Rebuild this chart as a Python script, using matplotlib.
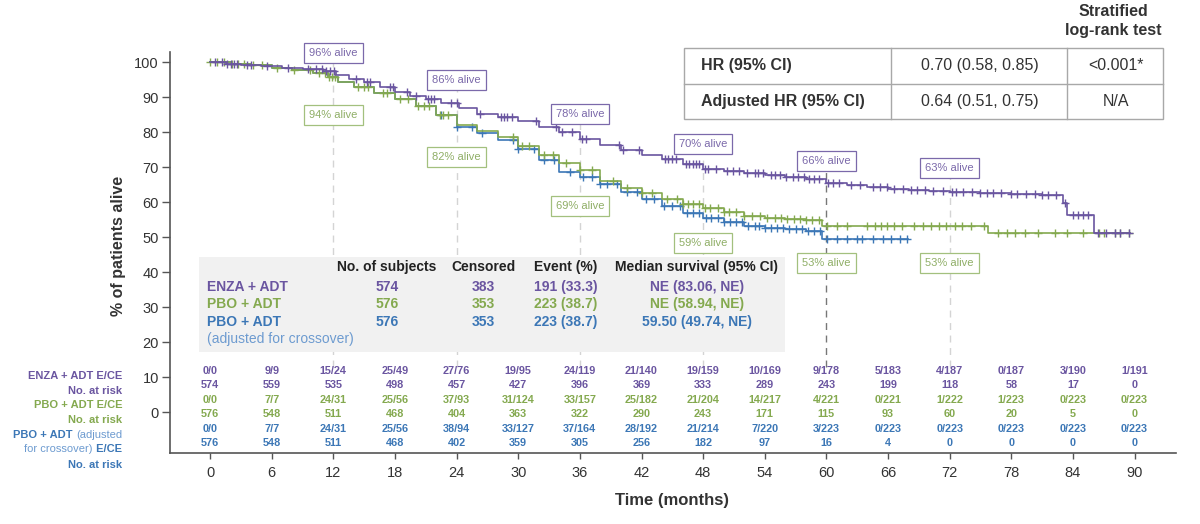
import matplotlib
matplotlib.use("Agg")
import matplotlib.pyplot as plt
from matplotlib.patches import Rectangle
from matplotlib.lines import Line2D
import numpy as np

plt.rcParams['font.family'] = ['Liberation Sans', 'DejaVu Sans']

PURPLE = '#6a55a0'
GREEN = '#84a94f'
BLUE = '#3c77b6'
LIGHTBLUE = '#6d9bd0'

# ---- Kaplan-Meier step knots (months, % alive) ----
enza_t = [0, 1.5, 3, 5, 7, 9, 11, 12.3, 13.5, 15, 16.5, 18, 19.5, 21, 22.5, 24.2, 26, 28, 30, 32,
          34, 36, 38, 40, 42, 44, 46, 48, 50, 52, 54, 56, 58, 60, 62, 64, 66, 68, 70, 72,
          75, 78, 81, 83.0, 83.4, 86.1]
enza_s = [100, 99.6, 99.2, 98.8, 98.3, 97.9, 97.4, 96.3, 95.2, 94.2, 93.0, 91.6, 90.2, 89.5, 88.4, 86.9, 85.3, 84.4, 83.2, 81.5,
          80.0, 78.0, 76.4, 75.0, 73.6, 72.2, 70.9, 69.6, 69.0, 68.3, 67.7, 67.1, 66.5, 65.5, 65.0, 64.4, 63.9, 63.5, 63.2, 62.9,
          62.6, 62.3, 62.0, 59.7, 56.3, 51.1]
enza_end = 89.6

pbo_t = [0, 2, 4, 6, 8, 10, 11.5, 12.5, 14, 16, 18, 20, 22, 24, 26, 28, 30, 32, 34, 36,
         38, 40, 42, 44, 46, 48, 50, 52, 54, 56, 58, 59.6, 75.7]
pbo_s = [100, 99.6, 99.1, 98.4, 97.7, 96.9, 95.8, 94.4, 92.8, 91.2, 89.6, 87.6, 85.0, 82.0, 80.3, 78.6, 76.0, 73.6, 71.2, 69.1,
         66.2, 64.1, 62.5, 61.0, 59.6, 58.3, 57.2, 56.1, 55.6, 55.1, 54.8, 53.2, 51.2]
pbo_end = 89.6

adj_t = [0, 2, 4, 6, 8, 10, 11.5, 12.5, 14, 16, 18, 20, 22, 24, 26, 28, 30, 32, 34, 36,
         38, 40, 42, 44, 46, 48, 50, 52, 54, 56, 58, 59.6]
adj_s = [100, 99.6, 99.1, 98.4, 97.7, 96.9, 95.8, 94.4, 92.8, 91.2, 89.6, 87.6, 84.8, 81.6, 79.8, 77.8, 75.2, 72.0, 68.6, 67.2,
         65.2, 63.0, 61.0, 58.8, 57.0, 55.5, 54.3, 53.3, 52.7, 52.3, 51.9, 49.6]
adj_end = 67.9

# censor times (months)
enza_cens = [0.5, 1.2, 1.6, 2.0, 2.3, 2.6, 3.6, 4, 5.5, 7.6, 9.5, 10.3, 10.9, 11.3, 11.7, 12.1, 14.2, 15.3, 15.6,
             17.5, 17.8, 19.2, 20.0, 21.2, 21.5, 21.8, 23.5, 24, 26.3, 28.3, 28.6, 28.9, 29.4, 31.7, 33.7, 34.3,
             35.2, 36.2, 36.6, 39.8, 40.2, 41.8, 44.3, 44.6, 45, 45.4, 46.3, 46.6, 47, 47.3, 47.6, 48.2, 48.5,
             49.3, 50.3, 50.9, 51.5, 52.3, 53, 53.3, 53.8, 54.6, 55, 55.5, 56.1, 56.7, 57.2, 57.8, 58.3, 58.8,
             59.3, 60.2, 60.6, 61.2, 62.4, 63.3, 64.5, 65.2, 65.9, 66.6, 67.5, 68.2, 68.8, 69.6, 70.4, 71.4,
             72.2, 72.6, 73.3, 74.2, 75, 75.6, 76.2, 77, 78, 78.6, 79.4, 80.3, 81, 81.6, 82.4, 83.2, 84, 84.5,
             85, 85.5, 86.4, 87.2, 88.1, 88.6, 89.5]
pbo_cens = [0, 0.7, 1.4, 2.1, 2.7, 3.3, 4.2, 5.1, 6.5, 8.2, 9.7, 10.6, 11.2, 11.6, 11.9, 12.2, 14.4, 15, 15.4,
            16.8, 17.2, 18.5, 19.3, 20.2, 20.8, 21.3, 22.4, 22.7, 23.2, 29.5, 30.4, 31, 32.5, 33.4, 34.6, 36,
            37.2, 39.2, 40.6, 42, 43, 44.5, 45.5, 46, 46.5, 47, 47.6, 48.2, 48.7, 49.4, 50, 50.5, 51.2, 52,
            52.8, 53.5, 54.2, 55, 55.6, 56.2, 56.8, 57.4, 58, 58.6, 59.3, 60.1, 61, 62, 64, 64.7, 65.3, 65.9,
            66.6, 67.4, 68.5, 69.4, 70.2, 71, 71.6, 72.5, 73.2, 74.1, 75.3, 76.7, 77.6, 78.4, 79.3, 80.6,
            82.3, 83.4, 85, 86.5, 87, 88.1, 88.6, 89.5]
adj_cens = [22.5, 24, 25.5, 26.5, 29.5, 30, 31.5, 32.5, 33.5, 35, 36.3, 37.2, 38, 38.6, 39.6, 40.6, 41.6, 42.4,
            43.2, 44.2, 45, 45.7, 46.4, 47, 47.6, 48.3, 48.8, 49.4, 50, 50.6, 51.2, 51.8, 52.4, 53, 53.4, 54,
            54.6, 55.2, 55.8, 56.4, 57, 57.6, 58.2, 58.8, 59.4, 60.1, 61, 62, 63, 63.5, 64.5, 65.5, 66.3, 67.2,
            67.8]

# annotation boxes: (month, y of box, label)
purple_boxes = [(12, 102.7, '96% alive'), (24, 94.8, '86% alive'), (36, 85.2, '78% alive'),
                (48, 76.5, '70% alive'), (60, 71.8, '66% alive'), (72, 69.8, '63% alive')]
green_boxes = [(12, 84.8, '94% alive'), (24, 72.9, '82% alive'), (36, 58.9, '69% alive'),
               (48, 48.4, '59% alive'), (60, 42.7, '53% alive'), (72, 42.7, '53% alive')]

# number at risk table
months = list(range(0, 91, 6))
enza_ece = ["0/0", "9/9", "15/24", "25/49", "27/76", "19/95", "24/119", "21/140", "19/159", "10/169",
            "9/178", "5/183", "4/187", "0/187", "3/190", "1/191"]
enza_risk = [574, 559, 535, 498, 457, 427, 396, 369, 333, 289, 243, 199, 118, 58, 17, 0]
pbo_ece = ["0/0", "7/7", "24/31", "25/56", "37/93", "31/124", "33/157", "25/182", "21/204", "14/217",
           "4/221", "0/221", "1/222", "1/223", "0/223", "0/223"]
pbo_risk = [576, 548, 511, 468, 404, 363, 322, 290, 243, 171, 115, 93, 60, 20, 5, 0]
adj_ece = ["0/0", "7/7", "24/31", "25/56", "38/94", "33/127", "37/164", "28/192", "21/214", "7/220",
           "3/223", "0/223", "0/223", "0/223", "0/223", "0/223"]
adj_risk = [576, 548, 511, 468, 402, 359, 305, 256, 182, 97, 16, 4, 0, 0, 0, 0]

# summary box
summary_cols = ['No. of subjects', 'Censored', 'Event (%)', 'Median survival (95% CI)']
summary_rows = [('ENZA + ADT', ['574', '383', '191 (33.3)', 'NE (83.06, NE)']),
                ('PBO + ADT', ['576', '353', '223 (38.7)', 'NE (58.94, NE)']),
                ('PBO + ADT', ['576', '353', '223 (38.7)', '59.50 (49.74, NE)'])]

hr_rows = [('HR (95% CI)', '0.70 (0.58, 0.85)', '<0.001*'),
           ('Adjusted HR (95% CI)', '0.64 (0.51, 0.75)', 'N/A')]


def step_at(t, s, x):
    idx = np.searchsorted(t, x, side='right') - 1
    return np.asarray(s)[idx]


fig = plt.figure(figsize=(12, 5.24), dpi=100)
ax = fig.add_axes([0.1417, 0.1355, 0.838, 0.766])
ax.set_xlim(-3.9, 94)
ax.set_ylim(-11.6, 103)

# KM curves
for t, s, end, cens, col in [(adj_t, adj_s, adj_end, adj_cens, BLUE),
                             (pbo_t, pbo_s, pbo_end, pbo_cens, GREEN),
                             (enza_t, enza_s, enza_end, enza_cens, PURPLE)]:
    tt = list(t) + [end]
    ss = list(s) + [s[-1]]
    ax.step(tt, ss, where='post', color=col, lw=1.2, zorder=5)
    ax.plot(cens, step_at(t, s, cens), ls='none', marker='+', ms=6, mew=1.0,
            color=col, zorder=5)

# dashed guide lines
for (m, yb, _) in purple_boxes:
    col = '#777777' if m == 60 else '#d4d4d4'
    ax.plot([m, m], [13, yb - 2], ls=(0, (5, 4)), color=col, lw=1.0, zorder=1)

for (m, yb, lab) in purple_boxes:
    ax.text(m, yb, lab, ha='center', va='center', fontsize=8, color='#7b69aa', zorder=7,
            bbox=dict(boxstyle='square,pad=0.45', fc='white', ec='#7b69aa', lw=0.9))
for (m, yb, lab) in green_boxes:
    ax.text(m, yb, lab, ha='center', va='center', fontsize=8, color='#8fae66', zorder=7,
            bbox=dict(boxstyle='square,pad=0.45', fc='white', ec='#a3c07e', lw=0.9))

# summary box
ax.add_patch(Rectangle((-1.04, 17.1), 57.04, 27.4, fc='#f1f1f1', ec='none', zorder=3))
col_x = [17.2, 26.6, 34.6, 47.4]
row_y = [35.8, 30.9, 25.8]
for cx, name in zip(col_x, summary_cols):
    ax.text(cx, 41.5, name, ha='center', va='center', fontsize=10, fontweight='bold',
            color='#222222', zorder=4)
for (lab, vals), ry, col in zip(summary_rows, row_y, [PURPLE, GREEN, BLUE]):
    ax.text(-0.3, ry, lab, ha='left', va='center', fontsize=10, fontweight='bold', color=col, zorder=4)
    for cx, v in zip(col_x, vals):
        ax.text(cx, ry, v, ha='center', va='center', fontsize=10, fontweight='bold', color=col, zorder=4)
ax.text(-0.3, 21.0, '(adjusted for crossover)', ha='left', va='center', fontsize=10,
        color=LIGHTBLUE, zorder=4)

# risk table numbers
risk_rows = [(enza_ece, 11.8, PURPLE), (enza_risk, 7.8, PURPLE),
             (pbo_ece, 3.6, GREEN), (pbo_risk, -0.5, GREEN),
             (adj_ece, -4.8, BLUE), (adj_risk, -8.8, BLUE)]
for vals, ry, col in risk_rows:
    for m, v in zip(months, vals):
        ax.text(m, ry, str(v), ha='center', va='center', fontsize=7.8, fontweight='bold', color=col)

# axes styling
for sp in ['top', 'right']:
    ax.spines[sp].set_visible(False)
for sp in ['left', 'bottom']:
    ax.spines[sp].set_color('#555555')
    ax.spines[sp].set_linewidth(1.2)
ax.set_xticks(months)
ax.set_yticks(range(0, 101, 10))
ax.tick_params(axis='x', length=4.5, width=1, color='#555555', labelsize=10.5, labelcolor='#333333', pad=5)
ax.tick_params(axis='y', length=6, width=1, color='#555555', labelsize=10.5, labelcolor='#333333', pad=2)

fig.text(119 / 1200, 1 - 246 / 524, '% of patients alive', rotation=90, ha='center', va='center',
         fontsize=11.5, fontweight='bold', color='#333333')
fig.text(672 / 1200, 1 - 500 / 524, 'Time (months)', ha='center', va='center',
         fontsize=12, fontweight='bold', color='#333333')

# left labels of risk table
lx = 122 / 1200
def flab(ypx, s, col, weight='bold'):
    return fig.text(lx, 1 - ypx / 524, s, ha='right', va='center', fontsize=8,
                    fontweight=weight, color=col)

flab(376, 'ENZA + ADT E/CE', PURPLE)
flab(391, 'No. at risk', PURPLE)
flab(405, 'PBO + ADT E/CE', GREEN)
flab(420, 'No. at risk', GREEN)
t1 = flab(435, '(adjusted', LIGHTBLUE, 'normal')
ax.annotate('PBO + ADT ', xy=(0, 0.5), xycoords=t1, ha='right', va='center',
            fontsize=8, fontweight='bold', color=BLUE, annotation_clip=False)
t2 = flab(449, ' E/CE', BLUE)
ax.annotate('for crossover)', xy=(0, 0.5), xycoords=t2, ha='right', va='center',
            fontsize=8, color=LIGHTBLUE, annotation_clip=False)
flab(465, 'No. at risk', BLUE)

# HR table (figure coords)
L, R = 684 / 1200, 1163 / 1200
T, B, M = 1 - 48 / 524, 1 - 119 / 524, 1 - 83.5 / 524
V1, V2 = 891 / 1200, 1067 / 1200
tc = '#a8a8a8'
fig.add_artist(Rectangle((L, B), R - L, T - B, transform=fig.transFigure, fc='white', ec=tc, lw=1.0, zorder=8))
for xs, ys in [([L, R], [M, M]), ([V1, V1], [B, T]), ([V2, V2], [B, T])]:
    fig.add_artist(Line2D(xs, ys, transform=fig.transFigure, color=tc, lw=1.0, zorder=9))
for (a, b, c), ypx in zip(hr_rows, [66, 101.7]):
    y = 1 - ypx / 524
    fig.text(701 / 1200, y, a, ha='left', va='center', fontsize=11.5, fontweight='bold', color='#333333', zorder=10)
    fig.text(980 / 1200, y, b, ha='center', va='center', fontsize=11.5, color='#333333', zorder=10)
    fig.text(1116 / 1200, y, c, ha='center', va='center', fontsize=11.5, color='#333333', zorder=10)
fig.text(1113 / 1200, 1 - 21 / 524, 'Stratified\nlog-rank test', ha='center', va='center', fontsize=11.5,
         fontweight='bold', color='#333333', linespacing=1.25)

fig.savefig('out.png', dpi=100)
